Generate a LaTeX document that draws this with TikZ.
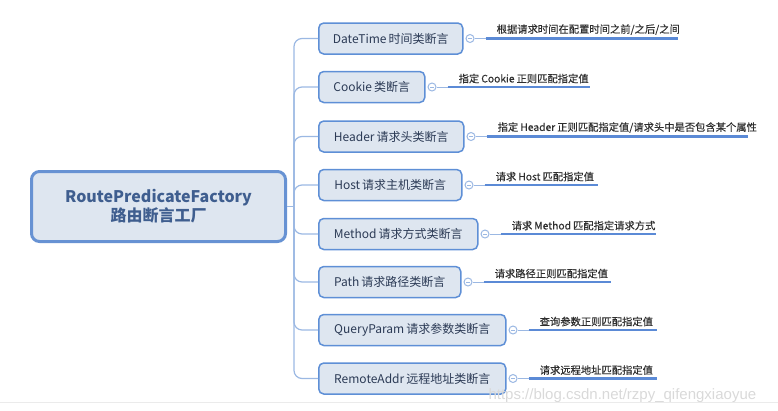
\documentclass[tikz,border=0pt]{standalone}
\usepackage{fontspec}
\setmainfont{Noto Sans CJK SC}
\newfontfamily\notefont[FakeBold=0.2]{Noto Sans CJK SC}
\newfontfamily\wmfont{Liberation Sans}
\usepackage{xcolor}
\usepackage{tikz}
\usetikzlibrary{positioning}

\definecolor{boxfill}{HTML}{DEE6F0}
\definecolor{rootline}{HTML}{6792D3}
\definecolor{roottext}{HTML}{3F5E8F}
\definecolor{boxline}{HTML}{5E8FD6}
\definecolor{topictext}{HTML}{2B3A55}
\definecolor{linkcol}{HTML}{9BB8E3}
\definecolor{ulinecol}{HTML}{5B8AD6}
\definecolor{notetext}{HTML}{2E2E2E}

\newcommand{\sep}{\kern2pt}

\begin{document}
\begin{tikzpicture}[x=1pt, y=-1pt,
    root/.style={rectangle, draw=rootline, line width=3pt, fill=boxfill, rounded corners=8pt, minimum width=254pt, minimum height=70pt, font=\fontsize{16}{19}\selectfont\bfseries, text=roottext, align=center},
    topic/.style={rectangle, draw=boxline, line width=1.5pt, fill=boxfill, rounded corners=5pt, minimum height=31pt, anchor=west, font=\fontsize{12}{14}\selectfont, text=topictext},
    knob/.style={circle, draw=linkcol, line width=1pt, fill=white, minimum size=8pt, inner sep=0pt},
    note/.style={inner xsep=11pt, inner ysep=3.5pt, font=\notefont\fontsize{10.3}{12}\selectfont, text=notetext, align=left},
    branch/.style={draw=linkcol, line width=1.2pt, rounded corners=8pt},
    link/.style={draw=linkcol, line width=1pt},
    uline/.style={draw=ulinecol, line width=2.5pt}
]
    \useasboundingbox (0,0) rectangle (778,410);

    % Root
    \node[root] (root) at (158.5, 206.5) {RoutePredicateFactory\\路由断言工厂};
    \coordinate (hub) at (294, 206.5);

    % Predicate types
    \node[topic, minimum width=144pt] (t1) at (318, 38.5) {DateTime\sep 时间类断言};
    \node[topic, minimum width=106pt] (t2) at (318, 87) {Cookie\sep 类断言};
    \node[topic, minimum width=145pt] (t3) at (318, 136.5) {Header\sep 请求头类断言};
    \node[topic, minimum width=143pt] (t4) at (318, 185) {Host\sep 请求主机类断言};
    \node[topic, minimum width=159pt] (t5) at (318, 234) {Method\sep 请求方式类断言};
    \node[topic, minimum width=142pt] (t6) at (318, 282) {Path\sep 请求路径类断言};
    \node[topic, minimum width=187pt] (t7) at (318, 330) {QueryParam\sep 请求参数类断言};
    \node[topic, minimum width=187pt] (t8) at (318, 378.5) {RemoteAddr\sep 远程地址类断言};

    % Collapse knobs
    \node[knob, right=2pt of t1] (k1) {};
    \node[knob, right=2pt of t2] (k2) {};
    \node[knob, right=2pt of t3] (k3) {};
    \node[knob, right=2pt of t4] (k4) {};
    \node[knob, right=2pt of t5] (k5) {};
    \node[knob, right=2pt of t6] (k6) {};
    \node[knob, right=2pt of t7] (k7) {};
    \node[knob, right=2pt of t8] (k8) {};
    \foreach \i in {1,...,8} {
        \draw (k\i.center) ++(-2pt,0) -- ++(4pt,0) [draw=linkcol, line width=0.8pt];
    }

    % Notes
    \node[note, text width=170pt, right=11pt of k1, anchor=south west] (n1) {根据请求时间在配置时间之前/之后/之间};
    \node[note, text width=120pt, right=11pt of k2, anchor=south west] (n2) {指定\sep Cookie\sep 正则匹配指定值};
    \node[note, text width=239pt, right=11pt of k3, anchor=south west] (n3) {指定\sep Header\sep 正则匹配指定值/请求头中是否包含某个属性};
    \node[note, text width=91pt, right=11pt of k4, anchor=south west] (n4) {请求\sep Host\sep 匹配指定值};
    \node[note, text width=133pt, right=11pt of k5, anchor=south west] (n5) {请求\sep Method\sep 匹配指定请求方式};
    \node[note, text width=105pt, right=11pt of k6, anchor=south west] (n6) {请求路径正则匹配指定值};
    \node[note, text width=106pt, right=11pt of k7, anchor=south west] (n7) {查询参数正则匹配指定值};
    \node[note, text width=106pt, right=11pt of k8, anchor=south west] (n8) {请求远程地址匹配指定值};

    % Connectors
    \draw[link] (root.east) -- (hub);
    \foreach \i in {1,...,8} {
        \draw[branch] (hub) |- (t\i.west);
        \draw[link] (k\i) -- (n\i.south west);
        \draw[uline] (n\i.south west) -- (n\i.south east);
    }

    % Watermark
    \node[font=\wmfont\fontsize{15}{18}\selectfont, text=black!15, anchor=base west] (mark) at (485, 399) {https://blog.csdn.net/rzpy\_qifengxiaoyue};
    \draw[black!8, line width=0.8pt] (0, 402) -- (778, 402);
\end{tikzpicture}
\end{document}
